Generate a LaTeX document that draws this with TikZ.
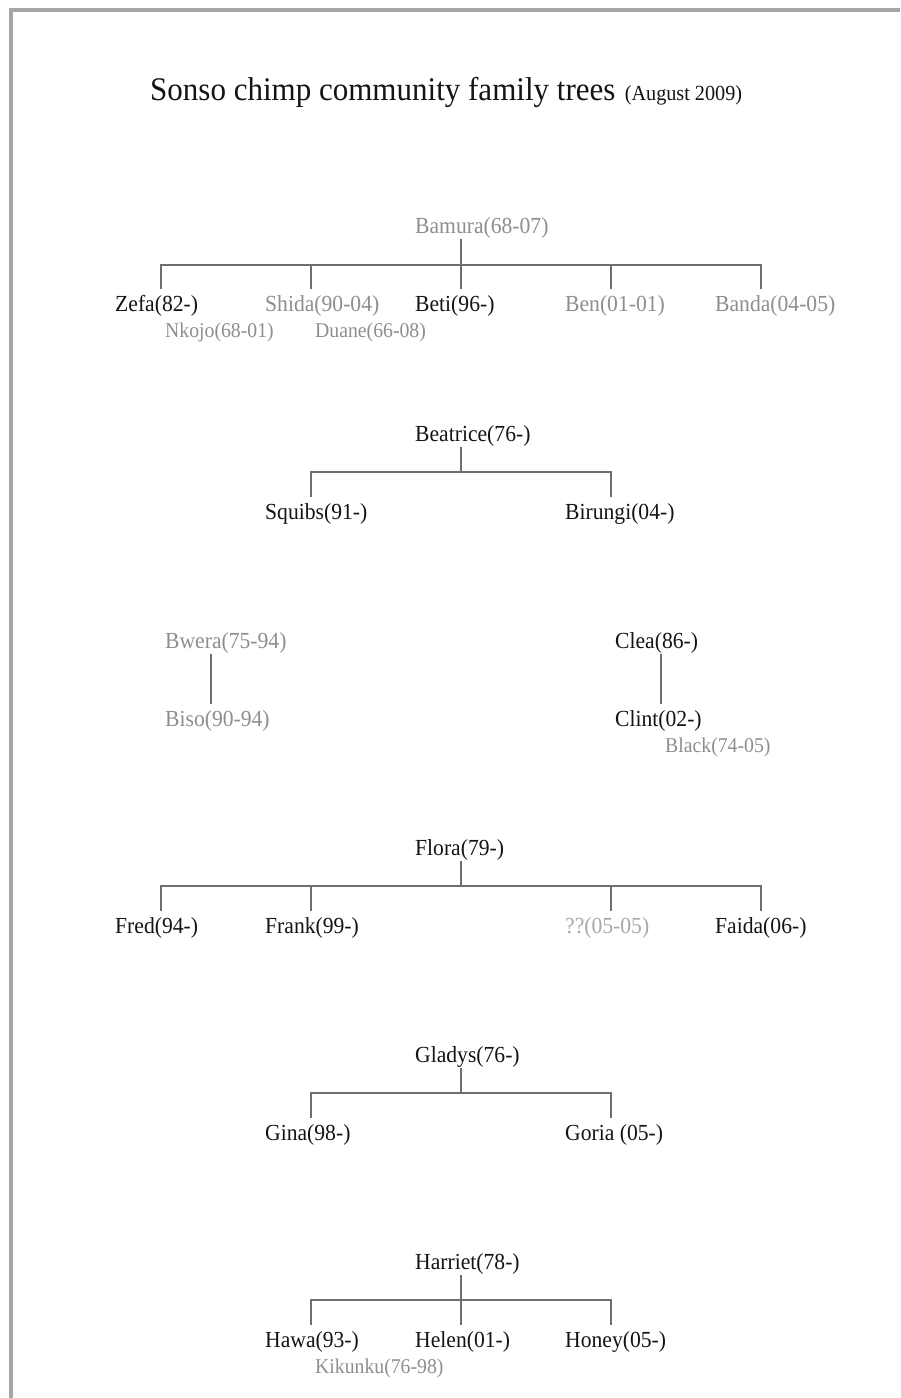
\documentclass[tikz,border=0pt]{standalone}
\usepackage{fontspec}
\setmainfont[FakeStretch=0.94]{Liberation Serif}
\definecolor{ink}{HTML}{141414}
\definecolor{dim}{HTML}{8E8E8E}
\definecolor{faint}{HTML}{A8A8A8}
\definecolor{linec}{HTML}{6E6E6E}
\definecolor{edgec}{HTML}{A5A5A5}
\tikzset{
  person/.style={anchor=base west, inner xsep=0pt, inner ysep=0pt,
    text height=22pt, text depth=6pt, font=\fontsize{23}{27}\selectfont},
  alive/.style={person, text=ink},
  gone/.style={person, text=dim},
  mate/.style={gone, font=\fontsize{21}{25}\selectfont},
  link/.style={draw=linec, line width=2pt},
  pageedge/.style={draw=edgec, line width=4pt}
}
\begin{document}
\begin{tikzpicture}[x=1pt,y=-1pt]
\useasboundingbox (0,0) rectangle (900,1398);
\fill[white] (0,0) rectangle (900,1398);
% page edge
\draw[pageedge] (10.5,1398) -- (10.5,10) -- (900,10);

% title
\node[anchor=base west, inner sep=0pt, text=ink, font=\fontsize{33}{38}\selectfont] (title) at (150,100) {Sonso chimp community family trees};
\node[anchor=base west, inner sep=0pt, text=ink, font=\fontsize{21.5}{25}\selectfont] (date) at ([xshift=9pt]title.base east) {(August 2009)};

% ---------- Bamura ----------
\node[gone]  (bam)   at (415,233) {Bamura(68-07)};
\node[alive] (zefa)  at (115,311) {Zefa(82-)};
\node[gone]  (shida) at (265,311) {Shida(90-04)};
\node[alive] (beti)  at (415,311) {Beti(96-)};
\node[gone]  (ben)   at (565,311) {Ben(01-01)};
\node[gone]  (banda) at (715,311) {Banda(04-05)};
\node[mate]  (nkojo) at (165,337) {Nkojo(68-01)};
\node[mate]  (duane) at (315,337) {Duane(66-08)};
\coordinate (bamB) at ([xshift=45.5pt]bam.south west);
\coordinate (bar1) at (0,265);
\foreach \n in {zefa,shida,beti,ben,banda}
  \coordinate (\n T) at ([xshift=45.5pt]\n.north west);
\draw[link] (bamB) -- (betiT);
\draw[link] (zefaT) |- (bar1 -| bandaT) -- (bandaT);
\draw[link] (shidaT) -- (shidaT |- bar1);
\draw[link] (benT) -- (benT |- bar1);

% ---------- Beatrice ----------
\node[alive] (bea) at (415,441) {Beatrice(76-)};
\node[alive] (squibs) at (265,519) {Squibs(91-)};
\node[alive] (birungi) at (565,519) {Birungi(04-)};
\coordinate (beaB) at ([xshift=45.5pt]bea.south west);
\coordinate (bar2) at (0,472);
\coordinate (squibsT) at ([xshift=45.5pt]squibs.north west);
\coordinate (birungiT) at ([xshift=45.5pt]birungi.north west);
\draw[link] (beaB) -- (beaB |- bar2);
\draw[link] (squibsT) |- (bar2 -| birungiT) -- (birungiT);

% ---------- Bwera ----------
\node[gone] (bwera) at (165,648) {Bwera(75-94)};
\node[gone] (biso)  at (165,726) {Biso(90-94)};
\draw[link] ([xshift=46pt]bwera.south west) -- ([xshift=46pt]biso.north west);

% ---------- Clea ----------
\node[alive] (clea)  at (615,648) {Clea(86-)};
\node[alive] (clint) at (615,726) {Clint(02-)};
\node[mate]  (black) at (665,752) {Black(74-05)};
\draw[link] ([xshift=46pt]clea.south west) -- ([xshift=46pt]clint.north west);

% ---------- Flora ----------
\node[alive] (flora) at (415,855) {Flora(79-)};
\node[alive] (fred)  at (115,933) {Fred(94-)};
\node[alive] (frank) at (265,933) {Frank(99-)};
\node[person, text=faint] (unk) at (565,933) {??(05-05)};
\node[alive] (faida) at (715,933) {Faida(06-)};
\coordinate (floraB) at ([xshift=45.5pt]flora.south west);
\coordinate (bar4) at (0,886);
\foreach \n in {fred,frank,unk,faida}
  \coordinate (\n T) at ([xshift=45.5pt]\n.north west);
\draw[link] (floraB) -- (floraB |- bar4);
\draw[link] (fredT) |- (bar4 -| faidaT) -- (faidaT);
\draw[link] (frankT) -- (frankT |- bar4);
\draw[link] (unkT) -- (unkT |- bar4);

% ---------- Gladys ----------
\node[alive] (gladys) at (415,1062) {Gladys(76-)};
\node[alive] (gina)   at (265,1140) {Gina(98-)};
\node[alive] (goria)  at (565,1140) {Goria (05-)};
\coordinate (gladysB) at ([xshift=45.5pt]gladys.south west);
\coordinate (bar5) at (0,1093);
\coordinate (ginaT) at ([xshift=45.5pt]gina.north west);
\coordinate (goriaT) at ([xshift=45.5pt]goria.north west);
\draw[link] (gladysB) -- (gladysB |- bar5);
\draw[link] (ginaT) |- (bar5 -| goriaT) -- (goriaT);

% ---------- Harriet ----------
\node[alive] (harriet) at (415,1269) {Harriet(78-)};
\node[alive] (hawa)    at (265,1347) {Hawa(93-)};
\node[alive] (helen)   at (415,1347) {Helen(01-)};
\node[alive] (honey)   at (565,1347) {Honey(05-)};
\node[mate]  (kikunku) at (315,1373) {Kikunku(76-98)};
\coordinate (harrietB) at ([xshift=45.5pt]harriet.south west);
\coordinate (bar6) at (0,1300);
\foreach \n in {hawa,helen,honey}
  \coordinate (\n T) at ([xshift=45.5pt]\n.north west);
\draw[link] (harrietB) -- (helenT);
\draw[link] (hawaT) |- (bar6 -| honeyT) -- (honeyT);
\end{tikzpicture}
\end{document}
